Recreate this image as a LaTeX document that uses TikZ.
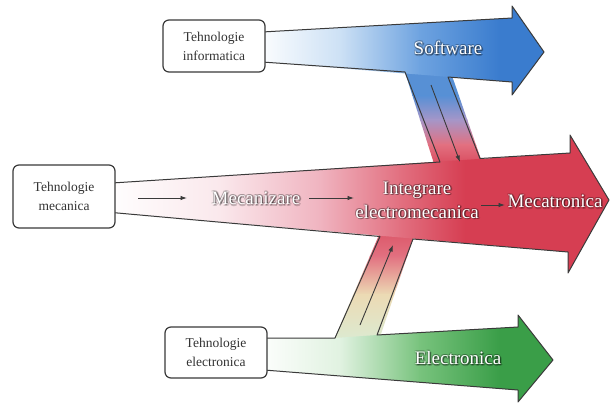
\documentclass[tikz,border=0pt]{standalone}
\usepackage{fontspec}
\setmainfont{Liberation Serif}
\usetikzlibrary{arrows.meta}

\definecolor{edge}{HTML}{3A3A3A}
\definecolor{boxtext}{HTML}{333333}
\definecolor{flowblue}{RGB}{58,124,206}
\definecolor{blueA}{RGB}{205,225,245}
\definecolor{blueB}{RGB}{110,163,224}
\definecolor{flowred}{RGB}{214,62,82}
\definecolor{redA}{RGB}{250,232,236}
\definecolor{redB}{RGB}{240,180,192}
\definecolor{redC}{RGB}{226,112,128}
\definecolor{mauve}{RGB}{165,150,200}
\definecolor{flowgreen}{RGB}{58,158,72}
\definecolor{greenA}{RGB}{225,242,225}
\definecolor{greenB}{RGB}{120,195,125}
\definecolor{straw}{RGB}{236,218,180}
\definecolor{mint}{RGB}{218,236,212}

\tikzset{
  techbox/.style={draw=edge, line width=1.2pt, fill=white, rounded corners=6pt,
    align=center, inner sep=0pt, text=boxtext,
    font=\fontsize{13.5}{19}\selectfont},
  outline/.style={draw=edge, line width=1pt, line join=round},
  flowtext/.style={align=center, inner sep=0pt,
    font=\fontsize{19}{24}\selectfont},
  minor/.style={draw=edge, line width=0.9pt, -{Latex[length=6.5pt,width=4.5pt]}},
}

% white label with a soft dark halo
\newcommand\flowlabel[3]{%
  \foreach \dx/\dy in {1.3/-1.3, 0.7/-1.8, 1.8/-0.7, -0.6/0.6, 0.6/0.6, -0.6/-0.6}
    \node[flowtext, text=black, opacity=0.22, xshift=\dx pt, yshift=\dy pt] at (#2) {#3};
  \node[flowtext, text=white] (#1) at (#2) {#3};
}

\begin{document}
\begin{tikzpicture}[x=1pt,y=-1pt]
\fill[white] (0,0) rectangle (610,405);
\useasboundingbox (0,0) rectangle (610,405);

% ---- outline points ----
% software arrow
\coordinate (b1) at (262,32);
\coordinate (b2) at (512,18);
\coordinate (b3) at (512,6);
\coordinate (b4) at (544,52);
\coordinate (b5) at (512,95);
\coordinate (b6) at (512,82);
\coordinate (b7) at (448,77);
\coordinate (b8) at (405,72);
\coordinate (b9) at (262,62);
% mecatronica arrow
\coordinate (r1) at (112,183);
\coordinate (r2) at (440,162);
\coordinate (r3) at (480,158.5);
\coordinate (r4) at (570,153);
\coordinate (r5) at (570,135);
\coordinate (r6) at (609,200);
\coordinate (r7) at (568,273);
\coordinate (r8) at (568,252);
\coordinate (r9) at (413,239);
\coordinate (r10) at (380,236.5);
\coordinate (r11) at (112,212.5);
% electronica arrow
\coordinate (g1) at (264,338);
\coordinate (g2) at (335,338);
\coordinate (g3) at (377,335);
\coordinate (g4) at (518,327);
\coordinate (g5) at (518,315);
\coordinate (g6) at (553,360);
\coordinate (g7) at (518,402);
\coordinate (g8) at (518,390);
\coordinate (g9) at (264,370);

% ---- fills ----
% branch from software into the main flow
\begin{scope}
  \clip (403,66) -- (450,70) -- (484,168) -- (436,170) -- cycle;
  \fill[flowblue!85!white] (390,60) rectangle (500,96);
  \shade[top color=flowblue!85!white, bottom color=mauve] (390,95.5) rectangle (500,120);
  \shade[top color=mauve, bottom color=redC] (390,119.5) rectangle (500,145);
  \shade[top color=redC, bottom color=flowred] (390,144.5) rectangle (500,172);
\end{scope}
% branch from electronics into the main flow
\begin{scope}
  \clip (333,342) -- (379,340) -- (416,230) -- (382,228) -- cycle;
  \shade[top color=flowred!90!white, bottom color=redC] (320,226) rectangle (430,256);
  \shade[top color=redC, bottom color=straw] (320,255.5) rectangle (430,295);
  \shade[top color=straw, bottom color=mint] (320,294.5) rectangle (430,345);
\end{scope}
% software arrow
\begin{scope}
  \clip (b1) -- (b2) -- (b3) -- (b4) -- (b5) -- (b6) -- (b9) -- cycle;
  \shade[left color=white, right color=blueA] (255,0) rectangle (340,100);
  \shade[left color=blueA, right color=blueB] (339.5,0) rectangle (420,100);
  \shade[left color=blueB, right color=flowblue] (419.5,0) rectangle (500,100);
  \fill[flowblue] (499.5,0) rectangle (550,100);
\end{scope}
% mecatronica arrow
\begin{scope}
  \clip (r1) -- (r4) -- (r5) -- (r6) -- (r7) -- (r8) -- (r11) -- cycle;
  \shade[left color=white, right color=redA] (105,130) rectangle (220,280);
  \shade[left color=redA, right color=redB] (219.5,130) rectangle (320,280);
  \shade[left color=redB, right color=redC] (319.5,130) rectangle (400,280);
  \shade[left color=redC, right color=flowred] (399.5,130) rectangle (465,280);
  \fill[flowred] (464.5,130) rectangle (612,280);
\end{scope}
% electronica arrow
\begin{scope}
  \clip (g1) -- (g2) -- (g3) -- (g4) -- (g5) -- (g6) -- (g7) -- (g8) -- (g9) -- cycle;
  \shade[left color=white, right color=greenA] (255,300) rectangle (340,405);
  \shade[left color=greenA, right color=greenB] (339.5,300) rectangle (420,405);
  \shade[left color=greenB, right color=flowgreen] (419.5,300) rectangle (500,405);
  \fill[flowgreen] (499.5,300) rectangle (560,405);
\end{scope}

% ---- outlines ----
\draw[outline] (b1) -- (b2) -- (b3) -- (b4) -- (b5) -- (b6) -- (b7) -- (r3)
  -- (r4) -- (r5) -- (r6) -- (r7) -- (r8) -- (r9) -- (g3) -- (g4) -- (g5)
  -- (g6) -- (g7) -- (g8) -- (g9);
\draw[outline] (g1) -- (g2) -- (r10) -- (r11);
\draw[outline] (r1) -- (r2) -- (b8) -- (b9);

% ---- source boxes ----
\node[techbox, minimum width=102pt, minimum height=52pt] (info) at (214,46) {Tehnologie\\informatica};
\node[techbox, minimum width=102pt, minimum height=63pt] (mec) at (64,196.5) {Tehnologie\\mecanica};
\node[techbox, minimum width=102pt, minimum height=51pt] (elec) at (216,352.5) {Tehnologie\\electronica};

% ---- flow labels ----
\flowlabel{soft}{448,48}{Software}
\flowlabel{mecz}{256,198}{Mecanizare}
\flowlabel{integ}{417,200}{Integrare\\electromecanica}
\flowlabel{meca}{555,201}{Mecatronica}
\flowlabel{elo}{458,358}{Electronica}

% ---- small arrows ----
\coordinate (m0) at (138,198);
\coordinate (m1) at (187,198);
\draw[minor] (m0) -- (m1);
\coordinate (n0) at (309,198);
\coordinate (n1) at (354,198);
\draw[minor] (n0) -- (n1);
\coordinate (s0) at (431,85);
\coordinate (s1) at (460,162);
\draw[minor] (s0) -- (s1);
\coordinate (e0) at (360,325);
\coordinate (e1) at (393,245);
\draw[minor] (e0) -- (e1);
\coordinate (t0) at (481,205);
\coordinate (t1) at (505,205);
\draw[minor] (t0) -- (t1);
\end{tikzpicture}
\end{document}
